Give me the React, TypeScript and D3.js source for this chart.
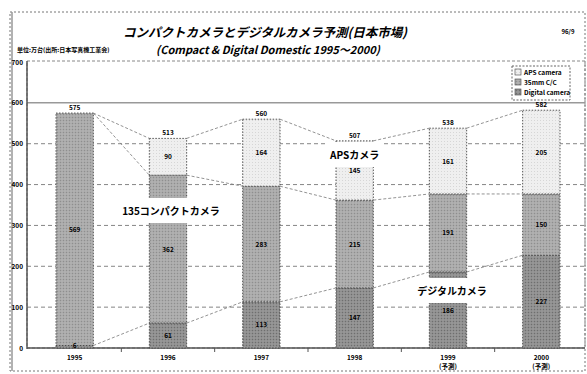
import React from 'react'
import * as d3 from 'd3'

// 単位: 万台
const years = ['1995', '1996', '1997', '1998', '1999', '2000']
const yearNotes = ['', '', '', '', '(予測)', '(予測)']
const digital = [6, 61, 113, 147, 186, 227]
const compact = [569, 362, 283, 215, 191, 150]
const aps = [0, 90, 164, 145, 161, 205]
const yTicks = [0, 100, 200, 300, 400, 500, 600, 700]
const legendNames = ['APS camera', '35mm C/C', 'Digital camera']

const W = 587
const H = 374
const font = '"Noto Sans CJK JP", "DejaVu Sans", sans-serif'

const App = () => {
  const rows = years.map((year, i) => ({ year, digital: digital[i], compact: compact[i], aps: aps[i] }))
  const keys = ['digital', 'compact', 'aps']
  const stacked = d3.stack().keys(keys)(rows as any)

  const x = d3.scaleBand().domain(years).range([28, 588]).paddingInner(0.6).paddingOuter(0.3)
  const y = d3.scaleLinear().domain([0, 700]).range([348, 62])
  const bw = x.bandwidth()

  const fills: Record<string, string> = { digital: 'url(#pDig)', compact: 'url(#pCmp)', aps: 'url(#pAps)' }

  // series lines between neighbouring bars (top of every stack level)
  const seriesLines: any[] = []
  stacked.forEach((layer) => {
    for (let i = 0; i < years.length - 1; i++) {
      seriesLines.push(
        <line
          key={layer.key + i}
          x1={(x(years[i]) as number) + bw}
          y1={y(layer[i][1])}
          x2={x(years[i + 1]) as number}
          y2={y(layer[i + 1][1])}
          stroke="#777"
          strokeWidth={0.8}
          strokeDasharray="3,2"
        />
      )
    }
  })

  const totals = years.map((_, i) => digital[i] + compact[i] + aps[i])

  // labels drawn on white boxes, as in the reference
  const boxLabels = [
    { text: '135コンパクトカメラ', cx: (x('1996') as number) + bw / 2 + 3, cy: 211, w: 102 },
    { text: 'APSカメラ', cx: (x('1998') as number) + bw / 2, cy: 155, w: 58 },
    { text: 'デジタルカメラ', cx: (x('1999') as number) + bw / 2 + 4, cy: 291, w: 74 }
  ]

  return (
    <svg width={W} height={H} style={{ position: 'absolute', left: 0, top: 0, background: '#fff' }}>
      <defs>
        <pattern id="pDig" width="3" height="3" patternUnits="userSpaceOnUse">
          <rect width="3" height="3" fill="#8e8e8e" />
          <rect width="1" height="1" fill="#6e6e6e" />
          <rect x="1.5" y="1.5" width="1" height="1" fill="#b0b0b0" />
        </pattern>
        <pattern id="pCmp" width="3" height="3" patternUnits="userSpaceOnUse">
          <rect width="3" height="3" fill="#a9a9a9" />
          <rect width="1" height="1" fill="#8e8e8e" />
          <rect x="1.5" y="1.5" width="1" height="1" fill="#c4c4c4" />
        </pattern>
        <pattern id="pAps" width="3" height="3" patternUnits="userSpaceOnUse">
          <rect width="3" height="3" fill="#efefef" />
          <rect width="1" height="1" fill="#d6d6d6" />
        </pattern>
      </defs>

      {/* outer frame */}
      <rect x={10} y={12} width={575} height={359} fill="none" stroke="#777" strokeDasharray="2,2" />
      <line x1={12} y1={12} x2={12} y2={371} stroke="#999" strokeWidth={1.5} />

      {/* title */}
      <text x={265} y={37} textAnchor="middle" fontFamily={font} fontSize={12.5} fontWeight="bold" fontStyle="italic">
        コンパクトカメラとデジタルカメラ予測(日本市場)
      </text>
      <text x={268} y={54} textAnchor="middle" fontFamily={font} fontSize={11} fontWeight="bold" fontStyle="italic">
        (Compact &amp; Digital Domestic 1995～2000)
      </text>
      <text x={568} y={34} textAnchor="middle" fontFamily={font} fontSize={6} fontWeight="bold">96/9</text>
      <text x={17} y={52} fontFamily={font} fontSize={6} fontWeight="bold">単位:万台(出所:日本写真機工業会)</text>

      {/* plot area */}
      <rect x={27} y={61} width={558} height={287} fill="none" stroke="#888" strokeDasharray="3,2" />
      {yTicks.filter((t) => t > 0 && t < 700).map((t) => (
        <line
          key={t}
          x1={27}
          x2={585}
          y1={y(t)}
          y2={y(t)}
          stroke={t === 600 ? '#999' : '#777'}
          strokeWidth={t === 600 ? 1.5 : 0.9}
          strokeDasharray={t === 600 ? undefined : '4,3'}
        />
      ))}
      <line x1={27} x2={27} y1={61} y2={349} stroke="#555" strokeWidth={1.5} />
      <line x1={27} x2={585} y1={348} y2={348} stroke="#555" strokeWidth={1.5} />
      {yTicks.map((t) => (
        <text key={t} x={23} y={y(t) + 2.5} textAnchor="end" fontFamily={font} fontSize={6.5} fontWeight="bold">
          {t}
        </text>
      ))}
      {years.slice(1).map((yr) => (
        <line key={yr} x1={(x(yr) as number) - (x.step() - bw) / 2} x2={(x(yr) as number) - (x.step() - bw) / 2} y1={348} y2={352} stroke="#555" />
      ))}

      {/* bars */}
      {stacked.map((layer) => (
        <g key={layer.key}>
          {layer.map((d, i) =>
            d[1] - d[0] > 0 ? (
              <rect
                key={i}
                x={x(years[i])}
                y={y(d[1])}
                width={bw}
                height={y(d[0]) - y(d[1])}
                fill={fills[layer.key]}
                stroke="#444"
                strokeWidth={0.9}
                strokeDasharray="1.5,1.5"
              />
            ) : null
          )}
        </g>
      ))}

      {seriesLines}

      {/* segment values */}
      {stacked.map((layer) => (
        <g key={'v' + layer.key}>
          {layer.map((d, i) =>
            d[1] - d[0] > 0 ? (
              <text
                key={i}
                x={(x(years[i]) as number) + bw / 2}
                y={d[1] - d[0] < 15 ? y(d[1]) + 2 : y((d[0] + d[1]) / 2) + 2.5}
                textAnchor="middle"
                fontFamily={font}
                fontSize={6.5}
                fontWeight="bold"
              >
                {d[1] - d[0]}
              </text>
            ) : null
          )}
        </g>
      ))}
      {totals.map((t, i) => (
        <text key={i} x={(x(years[i]) as number) + bw / 2} y={y(t) - 3} textAnchor="middle" fontFamily={font} fontSize={6.5} fontWeight="bold">
          {t}
        </text>
      ))}

      {/* box labels */}
      {boxLabels.map((b) => (
        <g key={b.text}>
          <rect x={b.cx - b.w / 2} y={b.cy - 13} width={b.w} height={25} fill="#fff" />
          <text x={b.cx} y={b.cy + 4} textAnchor="middle" fontFamily={font} fontSize={10} fontWeight="bold">
            {b.text}
          </text>
        </g>
      ))}

      {/* legend */}
      <rect x={512} y={66} width={58} height={34} fill="#fff" stroke="#666" strokeDasharray="2,1.5" />
      {legendNames.map((n, i) => (
        <g key={n}>
          <rect x={515} y={69 + i * 10} width={6} height={6} fill={fills[keys[2 - i]]} stroke="#444" strokeWidth={0.6} />
          <text x={524} y={75 + i * 10} fontFamily={font} fontSize={6.5} fontWeight="bold">
            {n}
          </text>
        </g>
      ))}

      {/* category labels */}
      {years.map((yr, i) => (
        <g key={yr}>
          <text x={(x(yr) as number) + bw / 2} y={360} textAnchor="middle" fontFamily={font} fontSize={6.5} fontWeight="bold">
            {yr}
          </text>
          {yearNotes[i] && (
            <text x={(x(yr) as number) + bw / 2} y={369} textAnchor="middle" fontFamily={font} fontSize={6.5} fontWeight="bold">
              {yearNotes[i]}
            </text>
          )}
        </g>
      ))}
    </svg>
  )
}

export default App
